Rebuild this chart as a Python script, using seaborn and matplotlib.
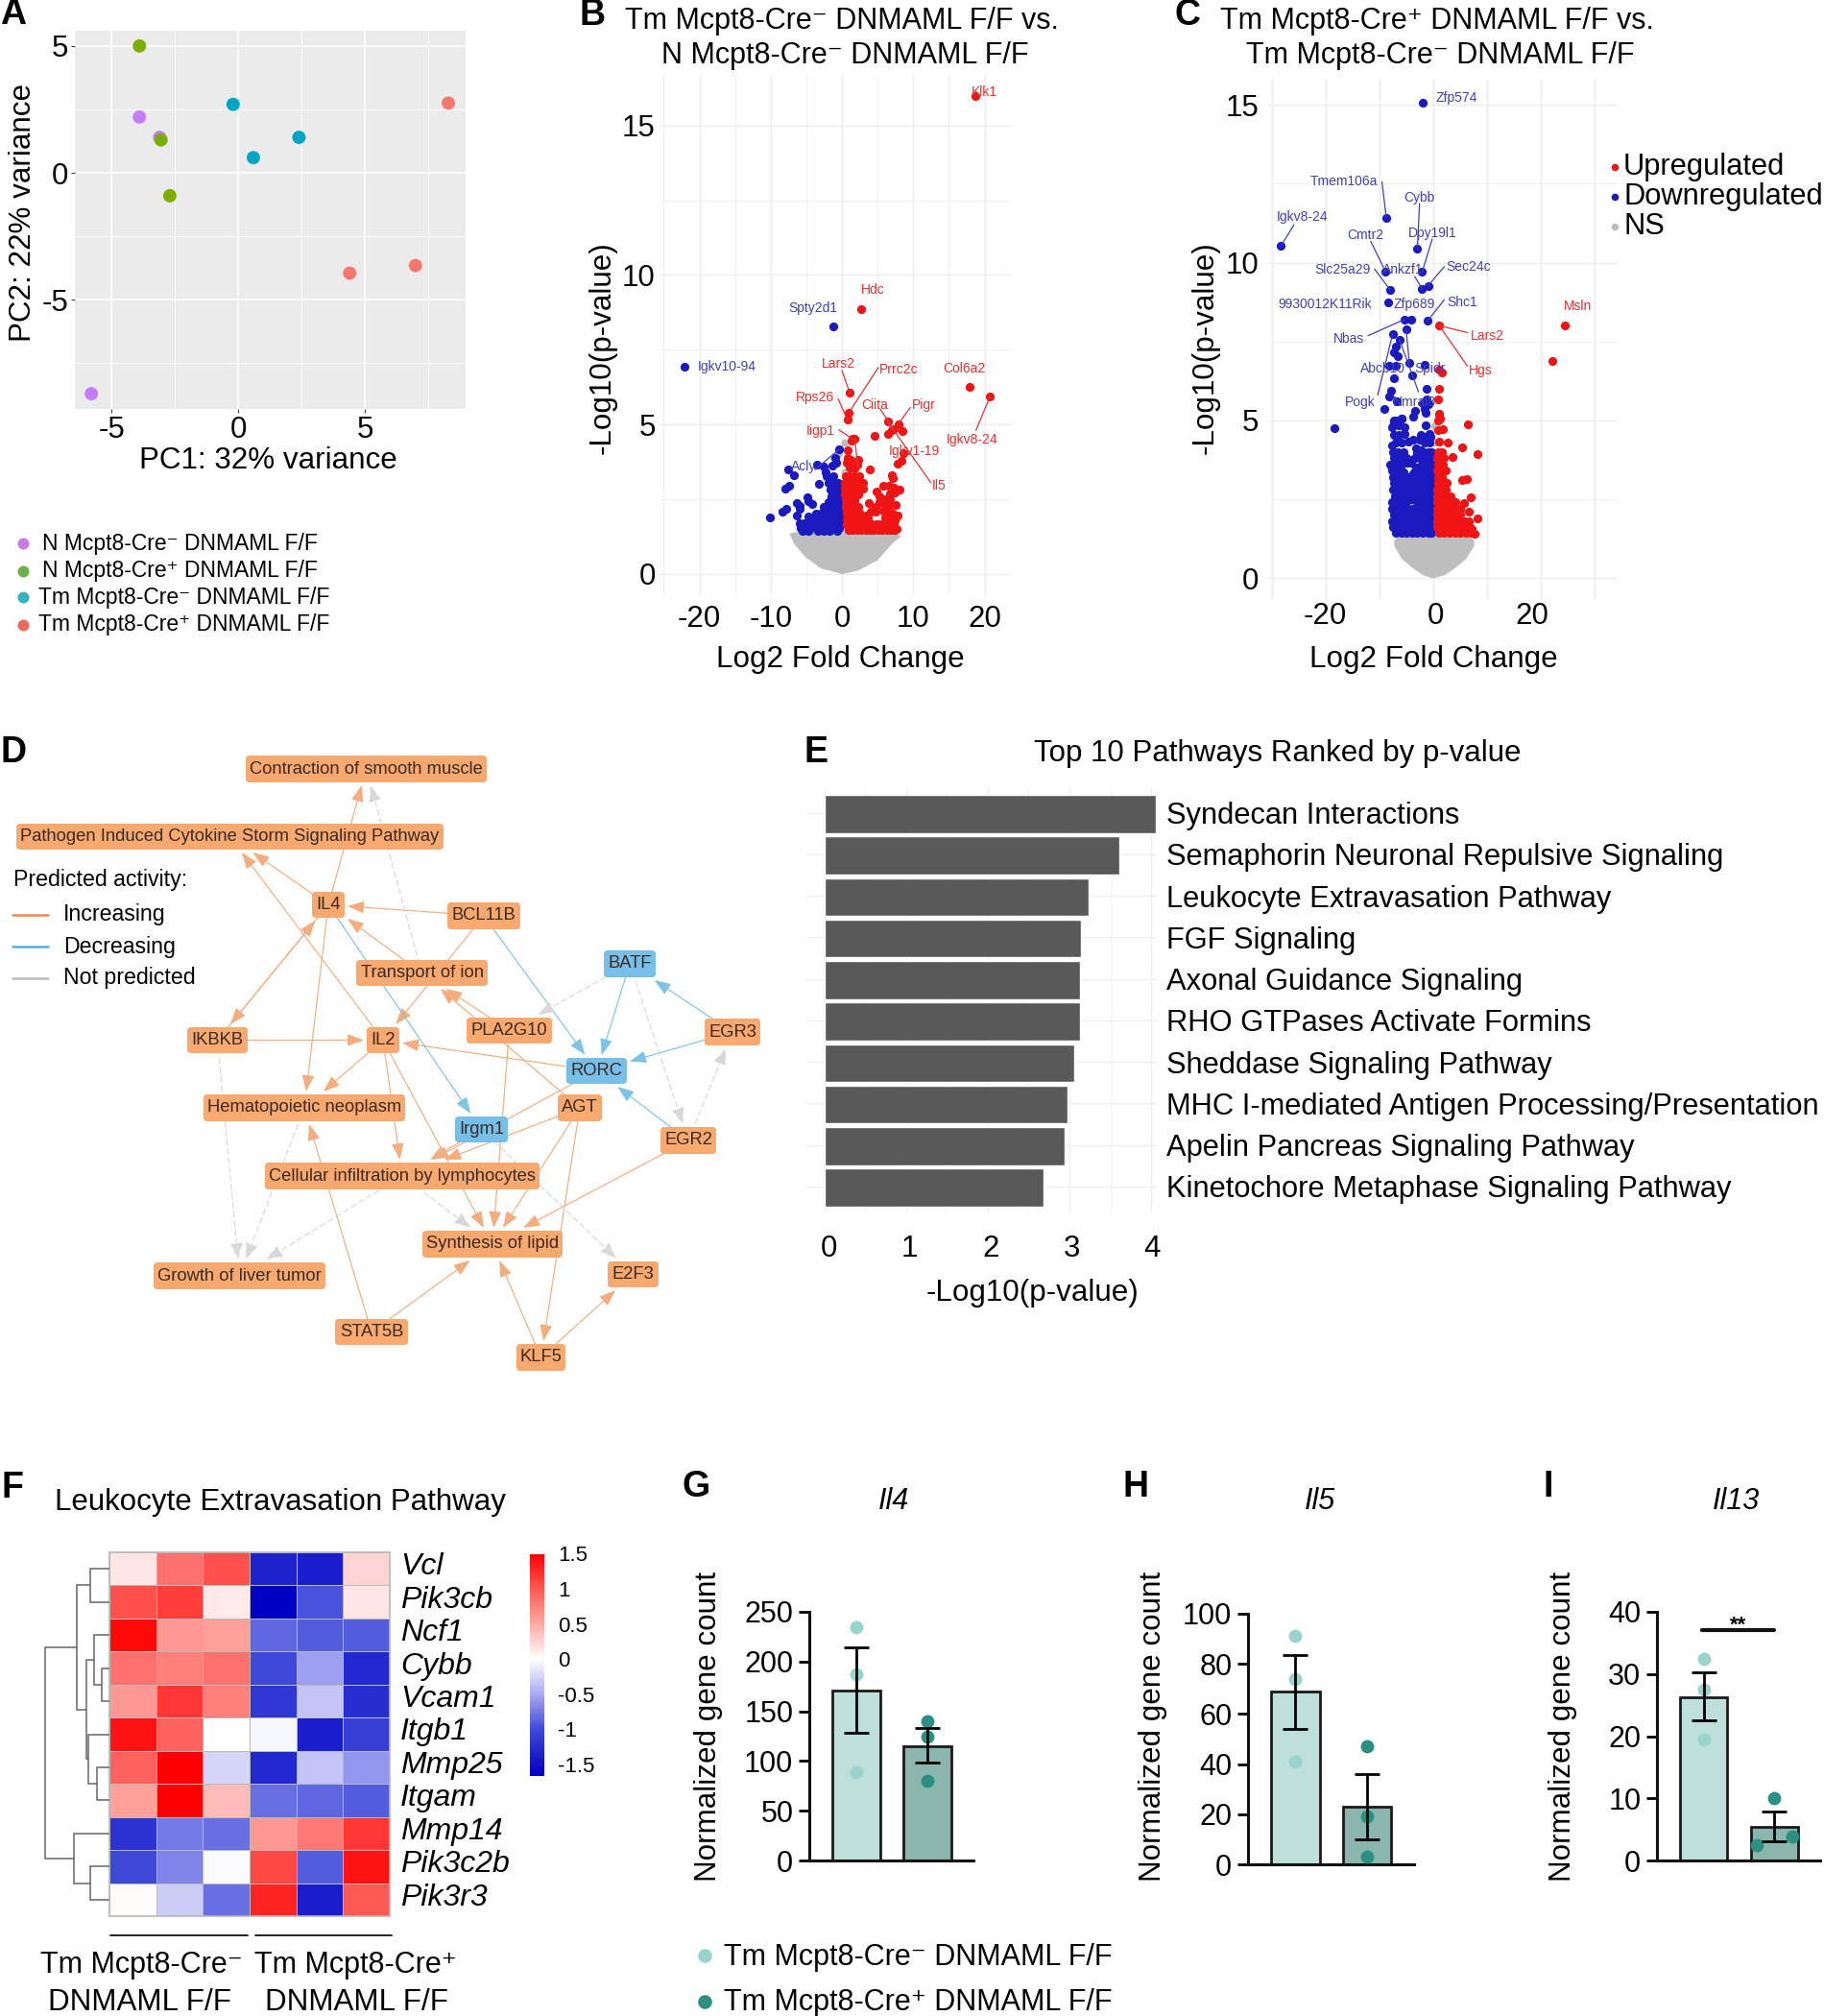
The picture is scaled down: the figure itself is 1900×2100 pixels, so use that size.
#!/usr/bin/env python3
"""Multi panel RNA-seq figure: PCA, volcano plots, network, pathways, heatmap, gene counts."""

import numpy as np
import pandas as pd
import matplotlib

matplotlib.use("Agg")
import matplotlib.pyplot as plt
import seaborn as sns
from matplotlib.colors import LinearSegmentedColormap
from matplotlib.patches import FancyBboxPatch

W, H = 1900, 2100
NEG = "Tm Mcpt8-Cre\u207b DNMAML F/F"
POS = "Tm Mcpt8-Cre\u207a DNMAML F/F"

# A: PCA
PCA_PURPLE = [(-5.8, -8.7), (-3.9, 2.2), (-3.1, 1.4)]
PCA_GREEN = [(-3.9, 5.0), (-3.05, 1.3), (-2.7, -0.9)]
PCA_BLUE = [(-0.2, 2.7), (0.6, 0.6), (2.4, 1.4)]
PCA_RED = [(4.4, -3.95), (7.0, -3.65), (8.3, 2.75)]

# B: volcano
B_DOWN = [
    (-22.1, 6.94), (-1.2, 8.28), (-0.45, 4.15), (-3.5, 3.66),
    (-10.1, 1.88), (-8.4, 2.07), (-7.8, 2.18), (-6.4, 1.94), (-6.4, 2.37), (-5.9, 2.28),
    (-6.0, 2.18), (-4.9, 2.57), (-4.2, 2.34), (-4.7, 2.44), (-8.0, 2.85), (-7.4, 2.96),
    (-3.2, 3.01), (-6.7, 3.3), (-7.5, 3.48), (-2.5, 3.6), (-2.3, 3.4), (-2.1, 3.25),
    (-1.0, 3.87), (-0.85, 3.73), (-1.3, 3.62), (-1.2, 3.25), (-1.9, 3.03), (-0.9, 3.03),
    (-0.5, 3.03), (-1.6, 2.82), (-1.0, 2.82), (-0.4, 2.82), (-1.5, 2.6), (-0.9, 2.6),
    (-0.4, 2.6), (-1.9, 2.39), (-1.2, 2.39), (-0.5, 2.39), (-2.5, 2.23), (-1.8, 2.23),
    (-1.1, 2.23), (-0.4, 2.23), (-3.0, 2.0), (-2.3, 2.0), (-1.5, 2.0), (-0.8, 2.0),
    (-0.3, 2.0), (-3.6, 1.85), (-3.0, 1.85), (-2.3, 1.85), (-1.6, 1.85), (-0.9, 1.85),
    (-0.3, 1.85), (-6.0, 1.7), (-5.3, 1.7), (-4.5, 1.7), (-3.7, 1.7), (-3.0, 1.7),
    (-2.3, 1.7), (-1.6, 1.7), (-0.9, 1.7), (-0.3, 1.7), (-5.8, 1.53), (-5.0, 1.53),
    (-4.6, 1.53), (-3.7, 1.53), (-3.1, 1.53), (-2.4, 1.53), (-1.6, 1.53), (-0.9, 1.53),
    (-0.4, 1.53), (-5.5, 1.42), (-4.7, 1.42), (-3.4, 1.42), (-2.6, 1.42), (-1.7, 1.42),
    (-0.7, 1.42), (-4.7, 1.9), (-3.6, 2.0),
]
B_UP = [
    (18.7, 15.98), (2.7, 8.87), (17.9, 6.26), (20.75, 5.92), (1.1, 6.05), (1.0, 5.4),
    (0.76, 5.15), (6.4, 5.09), (7.9, 5.01), (7.2, 4.85), (6.5, 4.67), (8.5, 4.79),
    (4.6, 4.61), (7.0, 4.8), (8.6, 4.05), (8.3, 3.78), (7.8, 3.68), (7.1, 3.19),
    (1.44, 4.52), (1.8, 4.52), (1.3, 4.45), (0.8, 4.13), (0.85, 3.87), (1.2, 3.8),
    (0.6, 3.73), (2.3, 3.8), (2.1, 3.65), (3.9, 3.5), (7.0, 3.29), (1.1, 3.57), (1.75, 3.52),
    (0.5, 3.25), (1.1, 3.25), (1.7, 3.25), (2.4, 3.25), (0.4, 3.05), (1.0, 3.05), (1.6, 3.05),
    (2.2, 3.05), (2.9, 3.05), (0.4, 2.85), (1.0, 2.85), (1.6, 2.85), (2.2, 2.85), (2.9, 2.85),
    (0.4, 2.65), (1.0, 2.65), (1.6, 2.65), (2.3, 2.65), (0.5, 2.45), (1.1, 2.45), (1.7, 2.45),
    (0.5, 2.25), (1.1, 2.25), (1.7, 2.25), (2.3, 2.25), (0.6, 2.05), (1.2, 2.05), (1.8, 2.05),
    (2.4, 2.05), (0.6, 1.85), (1.2, 1.85), (1.8, 1.85), (2.4, 1.85), (3.0, 1.85), (3.6, 1.85),
    (0.6, 1.65), (1.2, 1.65), (1.8, 1.65), (2.4, 1.65), (3.0, 1.65), (3.6, 1.65), (4.2, 1.65),
    (4.8, 1.65), (5.4, 1.65), (6.0, 1.65), (6.6, 1.65), (7.2, 1.65),
    (0.9, 1.45), (1.5, 1.45), (2.1, 1.45), (2.7, 1.45), (3.3, 1.45), (3.9, 1.45), (4.5, 1.45),
    (5.1, 1.45), (5.7, 1.45), (6.3, 1.45), (6.9, 1.45), (7.4, 1.45),
    (5.8, 2.95), (6.6, 2.95), (7.2, 2.87), (8.1, 2.8), (7.4, 2.71), (4.9, 2.76), (6.7, 2.7),
    (5.3, 2.6), (6.0, 2.5), (6.7, 2.5), (7.5, 2.3), (3.8, 2.37), (5.3, 2.39), (6.0, 2.28),
    (6.7, 2.28), (4.7, 2.23), (5.8, 2.12), (6.5, 2.07), (7.1, 2.01), (7.8, 1.96), (4.0, 2.07),
    (4.7, 2.07), (3.3, 1.96), (6.0, 1.88), (6.7, 1.85), (7.4, 1.8), (3.5, 1.8), (7.7, 1.51),
]
B_NS = [(0.0, 1.5), (-0.1, 1.8), (0.0, 2.1), (-0.2, 2.4), (0.1, 2.7), (0.4, 3.4), (-0.5, 4.0), (0.4, 4.4)]
B_NS_X = [-7.4, -6.8, -5.2, -3.0, 0.0, 2.2, 4.9, 7.1, 8.1]
B_NS_LOW = [1.34, 1.02, 0.57, 0.19, 0.0, 0.12, 0.46, 1.05, 1.23]
B_NS_TOP = [1.36, 1.4, 1.42, 1.42, 1.42, 1.42, 1.42, 1.4, 1.3]
B_LABELS = [
    ("Klk1", 20, 16.13, "r"), ("Hdc", 4.3, 9.5, "r"), ("Spty2d1", -4.1, 8.9, "b"),
    ("Igkv10-94", -16.2, 6.93, "b"), ("Lars2", -0.45, 7.04, "r"), ("Prrc2c", 7.9, 6.82, "r"),
    ("Col6a2", 17.2, 6.87, "r"), ("Rps26", -3.8, 5.9, "r"), ("Ciita", 4.6, 5.64, "r"),
    ("Pigr", 11.5, 5.64, "r"), ("Iigp1", -3, 4.78, "r"), ("Igkv8-24", 18.3, 4.5, "r"),
    ("Igkv1-19", 10.2, 4.1, "r"), ("Acly", -5.4, 3.6, "b"), ("Il5", 13.6, 2.95, "r"),
]
B_LEADERS = [
    (0, 6.8, 1.1, 6.05, "r"), (5.1, 6.9, 1.0, 5.4, "r"), (-0.55, 5.86, 0.76, 5.15, "r"),
    (5.4, 5.5, 7.2, 4.85, "r"), (9.6, 5.57, 7.9, 5.01, "r"), (-0.45, 4.82, 1.44, 4.52, "r"),
    (18.8, 4.8, 20.75, 5.92, "r"), (-3.8, 3.48, -0.45, 4.15, "b"), (12.5, 3.04, 6.4, 5.09, "r"),
    (1.8, 4.52, 2.25, 3.5, "r"),
]

# C: volcano
C_DOWN = [
    (-28.4, 10.53), (-2.0, 15.08), (-18.4, 4.74), (-8.8, 11.43), (-3.0, 10.44), (-8.9, 9.7),
    (-2.1, 9.7), (-8.1, 9.14), (-2.1, 9.17), (-1.0, 9.27), (-8.5, 8.73), (-5.4, 8.2), (-4.1, 8.2),
    (-1.1, 8.15), (-5.1, 7.87), (-7.6, 7.74), (-6.3, 7.54), (-7.0, 7.35), (-7.4, 7.14), (-6.7, 7.02),
    (-4.5, 6.82), (-8.3, 6.72), (-7.0, 6.72), (-1.6, 6.75), (-3.9, 6.41), (-7.4, 6.33), (-1.25, 6.0),
    (-7.9, 5.95), (-8.3, 5.76), (-6.8, 5.6), (-9.2, 5.36), (-1.25, 5.65), (-2.0, 5.55), (-1.0, 5.5),
    (-1.7, 5.35), (-3.5, 5.3), (-3.8, 5.1), (-1.4, 5.25), (-5.9, 5.05), (-7.4, 5.0),
    (-7.4, 4.94), (-6.8, 4.99), (-5.9, 5.06), (-7.7, 4.79), (-6.5, 4.84), (-5.4, 4.79), (-7.4, 4.53),
    (-6.4, 4.53), (-5.4, 4.58), (-7.1, 4.28), (-6.0, 4.28), (-4.7, 4.33), (-3.8, 4.38), (-1.4, 4.84),
    (-0.8, 4.58), (-2.3, 4.53), (-1.4, 4.48), (-0.5, 4.48), (-2.6, 4.38), (-1.7, 4.28), (-0.8, 4.28),
    (-7.6, 4.0), (-6.6, 4.0), (-5.6, 4.0), (-1.8, 4.0), (-1.0, 4.0), (-0.4, 4.0), (-3.0, 3.95),
    (-2.4, 4.05), (-3.2, 4.1), (-4.0, 3.75), (-4.8, 3.65), (-3.3, 3.5), (-3.6, 3.35), (-4.8, 3.2),
    (-5.6, 3.15), (-4.6, 3.0), (-3.8, 2.8), (-7.7, 4.2), (-2.2, 2.2), (-4.1, 2.5),
    (-7.4, 3.8), (-6.3, 3.8), (-5.0, 3.8), (-3.5, 3.8), (-2.5, 3.8), (-1.6, 3.8), (-0.7, 3.8),
    (-8.0, 3.6), (-7.0, 3.6), (-6.0, 3.6), (-4.2, 3.65), (-2.2, 3.6), (-1.2, 3.6), (-0.3, 3.6),
    (-7.8, 3.4), (-6.9, 3.4), (-5.5, 3.35), (-2.8, 3.4), (-1.9, 3.4), (-1.0, 3.4), (-0.3, 3.4),
    (-7.5, 3.2), (-6.5, 3.2), (-4.0, 3.25), (-3.0, 3.2), (-2.0, 3.2), (-1.0, 3.2), (-0.3, 3.2),
    (-7.4, 3.0), (-6.4, 3.0), (-5.3, 3.0), (-3.7, 3.0), (-2.8, 3.0), (-1.8, 3.0), (-0.9, 3.0), (-0.3, 3.0),
    (-7.6, 2.8), (-6.6, 2.8), (-5.6, 2.8), (-4.7, 2.8), (-2.9, 2.8), (-1.9, 2.8), (-1.0, 2.8), (-0.3, 2.8),
    (-7.2, 2.6), (-6.3, 2.6), (-5.4, 2.6), (-4.5, 2.6), (-3.4, 2.6), (-2.4, 2.6), (-1.4, 2.6), (-0.5, 2.6),
    (-7.7, 2.4), (-6.8, 2.4), (-5.9, 2.4), (-5.0, 2.4), (-3.0, 2.4), (-2.0, 2.4), (-1.0, 2.4), (-0.3, 2.4),
    (-7.8, 2.2), (-6.9, 2.2), (-6.0, 2.2), (-5.0, 2.2), (-4.0, 2.2), (-3.0, 2.2), (-2.0, 2.2), (-1.0, 2.2), (-0.3, 2.2),
    (-7.4, 2.0), (-6.5, 2.0), (-5.5, 2.0), (-4.5, 2.0), (-3.5, 2.0), (-2.5, 2.0), (-1.5, 2.0), (-0.6, 2.0),
    (-7.8, 1.8), (-6.9, 1.8), (-6.0, 1.8), (-5.0, 1.8), (-4.0, 1.8), (-3.0, 1.8), (-2.0, 1.8), (-1.0, 1.8), (-0.3, 1.8),
    (-7.5, 1.6), (-6.5, 1.6), (-5.5, 1.6), (-4.5, 1.6), (-3.5, 1.6), (-2.5, 1.6), (-1.5, 1.6), (-0.5, 1.6),
    (-7.0, 1.42), (-6.0, 1.42), (-5.0, 1.42), (-4.0, 1.42), (-3.0, 1.42), (-2.0, 1.42), (-1.0, 1.42), (-0.4, 1.42),
]
C_UP = [
    (1.07, 8.0), (24.5, 8.0), (22.1, 6.89), (1.0, 6.6), (1.55, 6.52), (1.0, 6.0), (0.8, 5.65),
    (1.0, 5.2), (1.3, 5.04), (6.4, 4.87), (2.6, 4.28), (5.4, 4.13), (8.1, 3.94), (3.5, 3.84),
    (5.4, 3.11), (6.2, 3.14), (7.0, 2.57), (5.7, 2.38), (6.6, 2.09), (8.1, 1.89), (1.1, 5.19),
    (0.8, 4.99), (0.8, 4.68), (1.7, 4.72), (1.0, 4.33), (0.8, 4.0), (1.5, 4.0), (0.7, 3.8), (1.4, 3.8),
    (2.0, 3.8), (0.9, 3.6), (1.7, 3.6), (0.7, 3.4), (1.3, 3.4), (2.2, 3.4), (0.8, 3.2), (1.6, 3.2),
    (0.9, 3.0), (1.7, 3.0), (2.5, 3.0), (0.7, 2.8), (1.5, 2.8), (2.3, 2.8), (0.7, 2.6), (1.5, 2.6),
    (2.4, 2.6), (3.2, 2.6), (0.6, 2.4), (1.4, 2.4), (2.3, 2.4), (3.2, 2.4), (4.0, 2.4), (0.6, 2.2),
    (1.4, 2.2), (2.3, 2.2), (3.2, 2.2), (4.1, 2.2), (4.9, 2.2), (0.6, 2.0), (1.4, 2.0), (2.3, 2.0),
    (3.2, 2.0), (4.1, 2.0), (5.0, 2.0), (0.6, 1.8), (1.4, 1.8), (2.3, 1.8), (3.2, 1.8), (4.1, 1.8),
    (5.0, 1.8), (5.9, 1.8), (6.6, 1.8), (0.7, 1.6), (1.5, 1.6), (2.4, 1.6), (3.3, 1.6), (4.2, 1.6),
    (5.1, 1.6), (6.0, 1.6), (6.8, 1.6), (7.2, 1.55), (1.0, 1.42), (2.0, 1.42), (3.0, 1.42), (4.0, 1.42),
    (5.0, 1.42), (6.0, 1.42), (7.0, 1.42), (7.6, 1.4),
]
C_NS = [(0.3, 2.2), (0.0, 2.5), (0.4, 3.2), (-0.1, 3.1), (0.3, 4.3), (0.1, 4.8)]
C_NS_X = [-7.4, -6.0, -4.0, -2.0, -0.2, 2.0, 4.0, 6.0, 7.5]
C_NS_LOW = [1.03, 0.62, 0.33, 0.1, 0.0, 0.1, 0.33, 0.62, 1.03]
C_NS_TOP = [1.2, 1.42, 1.42, 1.42, 1.42, 1.42, 1.42, 1.42, 1.2]
C_LABELS = [
    ("Zfp574", 4.2, 15.23, "b"), ("Tmem106a", -16.6, 12.57, "b"), ("Cybb", -2.7, 12.07, "b"),
    ("Igkv8-24", -24.5, 11.46, "b"), ("Cmtr2", -12.6, 10.86, "b"), ("Dpy19l1", -0.2, 10.94, "b"),
    ("Slc25a29", -16.9, 9.76, "b"), ("Ankzf1", -5.8, 9.76, "b"), ("Sec24c", 6.5, 9.85, "b"),
    ("9930012K11Rik", -20.2, 8.68, "b"), ("Zfp689", -3.6, 8.68, "b"), ("Shc1", 5.4, 8.75, "b"),
    ("Msln", 26.8, 8.61, "r"), ("Nbas", -15.8, 7.58, "b"), ("Lars2", 10, 7.67, "r"),
    ("Abcb10", -9.4, 6.65, "b"), ("Spidr", -0.6, 6.65, "b"), ("Hgs", 8.8, 6.58, "r"),
    ("Pogk", -13.7, 5.56, "b"), ("Nmral8", -3.6, 5.56, "b"),
]
C_LEADERS = [
    (-9.6, 12.56, -8.8, 11.43, "b"), (-2.6, 11.87, -3.0, 10.44, "b"), (-0.24, 10.75, -2.1, 9.7, "b"),
    (-11.7, 10.68, -8.9, 9.7, "b"), (-11, 9.8, -8.1, 9.14, "b"), (-3.5, 9.56, -2.1, 9.17, "b"),
    (2, 9.87, -1, 9.27, "b"), (2, 8.82, -1.1, 8.15, "b"), (-12.2, 7.68, -5.4, 8.2, "b"),
    (6.3, 7.78, 1.07, 8.0, "r"), (6.3, 6.72, 1.07, 8.0, "r"), (-10.4, 5.8, -7.6, 7.74, "b"),
    (-6.3, 7.54, -2.8, 5.9, "b"), (-5.1, 7.87, -4.5, 6.82, "b"), (-26, 11.2, -28.4, 10.53, "b"),
]

# D: network (name, left, right, top, bottom, kind) in figure pixels
NODES = [
    ("Contraction of smooth muscle", 256, 507, 787, 815, "o"),
    ("Pathogen Induced Cytokine Storm Signaling Pathway", 17, 462, 858, 885, "o"),
    ("IL4", 325, 359, 929, 956, "o"), ("BCL11B", 466, 542, 940, 968, "o"),
    ("Transport of ion", 371, 508, 1000, 1027, "o"), ("BATF", 629, 683, 990, 1018, "b"),
    ("IKBKB", 195, 258, 1070, 1097, "o"), ("IL2", 382, 416, 1070, 1097, "o"),
    ("PLA2G10", 486, 575, 1060, 1087, "o"), ("EGR3", 734, 792, 1061, 1089, "o"),
    ("RORC", 590, 653, 1102, 1129, "b"), ("Hematopoietic neoplasm", 212, 422, 1140, 1168, "o"),
    ("AGT", 581, 627, 1140, 1168, "o"), ("Irgm1", 474, 529, 1163, 1190, "b"),
    ("EGR2", 688, 746, 1174, 1202, "o"), ("Cellular infiltration by lymphocytes", 276, 562, 1211, 1239, "o"),
    ("Synthesis of lipid", 440, 586, 1282, 1310, "o"), ("Growth of liver tumor", 160, 339, 1315, 1343, "o"),
    ("E2F3", 633, 686, 1314, 1341, "o"), ("STAT5B", 349, 425, 1374, 1401, "o"),
    ("KLF5", 538, 589, 1400, 1428, "o"),
]
CMS = "Contraction of smooth muscle"
PCS = "Pathogen Induced Cytokine Storm Signaling Pathway"
TOI = "Transport of ion"
HN = "Hematopoietic neoplasm"
CIL = "Cellular infiltration by lymphocytes"
SOL = "Synthesis of lipid"
GLT = "Growth of liver tumor"
EDGES_UP = [
    ("IL4", CMS), ("IL4", PCS), ("IL2", PCS), ("BCL11B", "IL4"), (TOI, "IL4"), ("IKBKB", "IL4"),
    ("IL4", "IKBKB"), ("IL4", HN), ("BCL11B", "IL2"), ("PLA2G10", TOI), ("AGT", TOI), ("IKBKB", "IL2"),
    ("RORC", "IL2"), ("IL2", HN), ("IL2", CIL), ("IL2", SOL), ("Irgm1", CIL), ("RORC", CIL), ("AGT", CIL),
    ("PLA2G10", SOL), ("AGT", SOL), ("EGR2", SOL), ("AGT", "KLF5"), ("STAT5B", HN), ("STAT5B", SOL),
    ("KLF5", SOL), ("KLF5", "E2F3"),
]
EDGES_DOWN = [
    ("EGR3", "BATF"), ("BATF", "RORC"), ("EGR3", "RORC"), ("EGR2", "RORC"), ("BCL11B", "RORC"), ("IL4", "Irgm1"),
]
EDGES_NONE = [
    (TOI, CMS), ("BATF", "PLA2G10"), ("BATF", "EGR2"), ("EGR2", "EGR3"), ("IKBKB", GLT), (HN, GLT),
    (CIL, GLT), (CIL, SOL), ("Irgm1", "E2F3"),
]

# E: pathways
PATHWAYS = [
    "Syndecan Interactions", "Semaphorin Neuronal Repulsive Signaling", "Leukocyte Extravasation Pathway",
    "FGF Signaling", "Axonal Guidance Signaling", "RHO GTPases Activate Formins", "Sheddase Signaling Pathway",
    "MHC I-mediated Antigen Processing/Presentation", "Apelin Pancreas Signaling Pathway",
    "Kinetochore Metaphase Signaling Pathway",
]
PATHWAY_P = [4.06, 3.61, 3.235, 3.14, 3.13, 3.13, 3.06, 2.98, 2.94, 2.685]

# F: heatmap
GENES = ["Vcl", "Pik3cb", "Ncf1", "Cybb", "Vcam1", "Itgb1", "Mmp25", "Itgam", "Mmp14", "Pik3c2b", "Pik3r3"]
HEAT = [
    [0.15, 0.85, 1.05, -1.35, -1.4, 0.25],
    [1.05, 1.15, 0.12, -1.65, -0.95, 0.15],
    [1.45, 0.6, 0.55, -0.85, -0.9, -0.9],
    [0.85, 0.75, 0.85, -1.0, -0.55, -1.3],
    [0.6, 1.2, 0.75, -1.15, -0.35, -1.25],
    [1.4, 0.95, 0.0, -0.05, -1.4, -1.1],
    [0.95, 1.5, -0.25, -1.3, -0.35, -0.6],
    [0.55, 1.5, 0.4, -0.8, -0.85, -0.9],
    [-1.2, -0.75, -0.8, 0.6, 0.8, 1.2],
    [-1.0, -0.7, -0.03, 1.1, -0.9, 1.4],
    [0.02, -0.3, -0.8, 1.3, -1.4, 1.0],
]
# dendrogram as nested (height, child, child), leaves are row indexes
TREE = (67.5,
        (33.8, (19.8, 0, 1),
         (24.5, (16, 2, (8.4, 3, 4)), (21.9, 5, (13.5, 6, 7)))),
        (36.7, 8, (20.3, 9, 10)))

# G, H, I: gene counts
IL4_MEAN, IL4_LOW, IL4_HIGH = [171, 115], [128, 98], [214, 133]
IL4_NEG, IL4_POS = [235, 187, 89], [140, 125, 80]
IL5_MEAN, IL5_LOW, IL5_HIGH = [69, 23], [54, 10], [83.5, 36]
IL5_NEG, IL5_POS = [91, 74, 41], [47, 19, 3]
IL13_MEAN, IL13_LOW, IL13_HIGH = [26.3, 5.4], [22.5, 3.1], [30.2, 7.9]
IL13_NEG, IL13_POS = [32.4, 27.5, 19.5], [10.1, 3.9, 2.4]
IL13_POS_X = [1.0, 1.25, 0.75]

RED = "#f01414"
BLUE = "#1a1abf"
GREY = "#bebebe"
ORANGE_NODE = "#f7a96f"
BLUE_NODE = "#77bfe8"
BAR_COLORS = ["#bde0db", "#8bb6ad"]
DOT_COLORS = ["#99d3cc", "#2b9080"]

sns.set_theme(style="white")
plt.rcParams["font.family"] = ["Liberation Sans", "DejaVu Sans"]
plt.rcParams["axes.unicode_minus"] = False
plt.rcParams["text.color"] = "black"
plt.rcParams["axes.labelcolor"] = "black"
plt.rcParams["xtick.color"] = "black"
plt.rcParams["ytick.color"] = "black"

fig = plt.figure(figsize=(W / 100, H / 100), dpi=100, facecolor="white")


def add_ax(left, top, right, bottom):
    return fig.add_axes([left / W, 1 - bottom / H, (right - left) / W, (bottom - top) / H])


# overlay in figure pixels for free text and the network
over = fig.add_axes([0, 0, 1, 1], zorder=10)
over.set_xlim(0, W)
over.set_ylim(H, 0)
over.axis("off")


def txt(x, y, s, size=22.6, ha="center", va="center", **kw):
    over.text(x, y, s, fontsize=size, ha=ha, va=va, **kw)


for letter, x, y in [("A", 14, 15), ("B", 617, 16), ("C", 1237, 16), ("D", 14, 784),
                     ("E", 850, 784), ("F", 13, 1550), ("G", 725, 1549), ("H", 1183, 1549), ("I", 1613, 1549)]:
    txt(x, y, letter, size=27, fontweight="bold")


def panel_a():
    ax = add_ax(78, 32, 485, 426)
    groups = [PCA_PURPLE, PCA_GREEN, PCA_BLUE, PCA_RED]
    colors = ["#c77cff", "#7cae00", "#00a5c6", "#f8766d"]
    df = pd.DataFrame(
        [(x, y, i) for i, g in enumerate(groups) for x, y in g], columns=["pc1", "pc2", "group"]
    )
    sns.scatterplot(data=df, x="pc1", y="pc2", hue="group", palette=colors, s=100,
                    linewidth=0, legend=False, ax=ax)
    ax.set_xlim(-6.45, 8.98)
    ax.set_ylim(-9.3, 5.6)
    ax.set_facecolor("#ebebeb")
    ax.set_xticks([-5, 0, 5])
    ax.set_yticks([-5, 0, 5])
    ax.set_xticks([-2.5, 2.5, 7.5], minor=True)
    ax.set_yticks([-7.5, -2.5, 2.5], minor=True)
    ax.grid(True, which="major", color="white", lw=1.1)
    ax.grid(True, which="minor", color="white", lw=0.6)
    ax.set_axisbelow(True)
    ax.tick_params(which="major", labelsize=22.5, length=3, width=0.8, color="#444444", pad=2,
                   bottom=True, left=True)
    ax.tick_params(which="minor", length=0)
    sns.despine(ax=ax, left=True, bottom=True)
    ax.set_xlabel("")
    ax.set_ylabel("")
    txt(279, 480, "PC1: 32% variance")
    txt(24, 221, "PC2: 22% variance", rotation=90)
    legend = [("N Mcpt8-Cre\u207b DNMAML F/F", 566, "#c97be8", 44),
              ("N Mcpt8-Cre\u207a DNMAML F/F", 595, "#6fb04a", 44),
              (NEG, 622, "#35b3c0", 40), (POS, 651, "#f0695f", 40)]
    for label, y, color, x in legend:
        over.scatter([24], [y], s=75, color=color, linewidth=0)
        txt(x, y, label, size=16.5, ha="left")


def volcano(ax, down, up, ns, ns_x, ns_low, ns_top, labels, leaders, size):
    ax.fill_between(ns_x, ns_low, ns_top, color=GREY, lw=0, zorder=1)
    nsa, da, ua = np.array(ns), np.array(down), np.array(up)
    sns.scatterplot(x=nsa[:, 0], y=nsa[:, 1], color=GREY, s=34, linewidth=0, ax=ax, zorder=2)
    sns.scatterplot(x=da[:, 0], y=da[:, 1], color=BLUE, s=44, linewidth=0, ax=ax, zorder=3)
    sns.scatterplot(x=ua[:, 0], y=ua[:, 1], color=RED, s=44, linewidth=0, ax=ax, zorder=3)
    cols = {"r": "#e83030", "b": "#3f3fbf"}
    for x0, y0, x1, y1, c in leaders:
        ax.plot([x0, x1], [y0, y1], color=cols[c], lw=0.9, zorder=4)
    for s, x, y, c in labels:
        ax.text(x, y, s, color=cols[c], fontsize=size, ha="center", va="center", zorder=5)
    sns.despine(ax=ax, left=True, bottom=True)
    ax.set_axisbelow(True)


def panel_b():
    ax = add_ax(687, 78, 1053, 620)
    volcano(ax, B_DOWN, B_UP, B_NS, B_NS_X, B_NS_LOW, B_NS_TOP, B_LABELS, B_LEADERS, 10)
    ax.set_xlim(-25.6, 23.7)
    ax.set_ylim(-0.72, 16.7)
    ax.set_xticks([-20, -10, 0, 10, 20])
    ax.set_xticks([-25, -15, -5, 5, 15], minor=True)
    ax.set_yticks([0, 5, 10, 15])
    ax.set_yticks([2.5, 7.5, 12.5], minor=True)
    ax.grid(True, which="major", color="#ececec", lw=1.0)
    ax.grid(True, which="minor", color="#f2f2f2", lw=0.8)
    ax.tick_params(which="both", length=0)
    ax.tick_params(axis="x", labelsize=22.5, pad=7)
    ax.tick_params(axis="y", labelsize=22.5, pad=3)
    txt(875, 687, "Log2 Fold Change")
    txt(628, 362, "-Log10(p-value)", rotation=90)
    txt(877, 22, "Tm Mcpt8-Cre\u207b DNMAML F/F vs.", size=22)
    txt(880, 58, "N Mcpt8-Cre\u207b DNMAML F/F", size=22)


def panel_c():
    ax = add_ax(1321, 83, 1685, 625)
    volcano(ax, C_DOWN, C_UP, C_NS, C_NS_X, C_NS_LOW, C_NS_TOP, C_LABELS, C_LEADERS, 10)
    ax.set_xlim(-30.8, 34.3)
    ax.set_ylim(-0.7, 15.8)
    ax.set_xticks([-30, -20, -10, 0, 10, 20, 30])
    ax.set_xticklabels([])
    ax.set_yticks([0, 5, 10, 15])
    ax.set_yticks([2.5, 7.5, 12.5], minor=True)
    ax.grid(True, which="major", color="#ececec", lw=1.0)
    ax.grid(True, which="minor", color="#f2f2f2", lw=0.8)
    ax.tick_params(which="both", length=0)
    ax.tick_params(axis="y", labelsize=22.5, pad=7)
    for s, x in [("-20", 1380), ("0", 1495), ("20", 1596)]:
        txt(x, 642, s, size=22.5)
    txt(1493, 687, "Log2 Fold Change")
    txt(1256, 362, "-Log10(p-value)", rotation=90)
    txt(1497, 22, "Tm Mcpt8-Cre\u207a DNMAML F/F vs.", size=22)
    txt(1500, 58, "Tm Mcpt8-Cre\u207b DNMAML F/F", size=22)
    for s, y, c in [("Upregulated", 174, RED), ("Downregulated", 205, BLUE), ("NS", 236, GREY)]:
        over.scatter([1682], [y], s=30, color=c, linewidth=0)
        txt(1691, y, s, size=22.2, ha="left")


def edge_tip(src, dst):
    # stop the line where it meets the target box
    x0, y0 = (src[1] + src[2]) / 2, (src[3] + src[4]) / 2
    x1, y1 = (dst[1] + dst[2]) / 2, (dst[3] + dst[4]) / 2
    hw, hh = (dst[2] - dst[1]) / 2 + 3, (dst[4] - dst[3]) / 2 + 3
    t = min(hw / max(abs(x1 - x0), 1e-6), hh / max(abs(y1 - y0), 1e-6))
    return (x0, y0), (x1 - (x1 - x0) * t, y1 - (y1 - y0) * t)


def panel_d():
    nodes = {n[0]: n for n in NODES}
    styles = [(EDGES_UP, "#f3ad7e", "-"), (EDGES_DOWN, "#7ec4e6", "-"), (EDGES_NONE, "#d8d8d8", (0, (5, 3)))]
    for edges, color, ls in styles:
        for a, b in edges:
            start, tip = edge_tip(nodes[a], nodes[b])
            over.annotate("", xy=tip, xytext=start, zorder=1,
                          arrowprops=dict(arrowstyle="-|>,head_length=0.75,head_width=0.28", color=color,
                                          lw=0.85, linestyle=ls, shrinkA=0, shrinkB=0, mutation_scale=14))
    for name, l, r, t, b, kind in NODES:
        box = FancyBboxPatch((l + 4, t + 4), r - l - 8, b - t - 8, boxstyle="round,pad=4,rounding_size=4",
                             facecolor=ORANGE_NODE if kind == "o" else BLUE_NODE, edgecolor="none", zorder=2)
        over.add_patch(box)
        over.text((l + r) / 2, (t + b) / 2, name, fontsize=13.2, color="#3a2a20", ha="center", va="center", zorder=3)
    txt(14, 917, "Predicted activity:", size=16.7, ha="left")
    for s, y, c in [("Increasing", 953, "#ef8a4e"), ("Decreasing", 986, "#4fb5cc"), ("Not predicted", 1019, "#bbbbbb")]:
        over.plot([13, 50], [y, y], color=c, lw=1.8)
        txt(66, y, s, size=16.7, ha="left")


def panel_e():
    ax = add_ax(840, 821, 1205, 1263)
    df = pd.DataFrame({"pathway": PATHWAYS, "p": PATHWAY_P})
    sns.barplot(data=df, y="pathway", x="p", color="#595959", saturation=1, width=0.915, ax=ax)
    ax.set_xlim(-0.22, 4.07)
    ax.set_ylim(9.6, -0.62)
    ax.set_xticks([0, 1, 2, 3, 4])
    ax.set_xticklabels([])
    ax.set_xticks([0.5, 1.5, 2.5, 3.5], minor=True)
    ax.set_yticks(np.arange(10) - 0.03, PATHWAYS)
    ax.grid(True, axis="both", which="major", color="#eeeeee", lw=0.9)
    ax.grid(True, axis="x", which="minor", color="#f4f4f4", lw=0.7)
    ax.set_axisbelow(True)
    ax.yaxis.tick_right()
    ax.tick_params(which="both", length=0)
    ax.tick_params(axis="y", labelsize=22.2, pad=7)
    sns.despine(ax=ax, left=True, bottom=True)
    ax.set_xlabel("")
    ax.set_ylabel("")
    for s, x in [("0", 863), ("1", 947), ("2", 1032), ("3", 1116), ("4", 1200)]:
        txt(x, 1301, s, size=22.5)
    txt(1076, 1347, "-Log10(p-value)")
    txt(1331, 785, "Top 10 Pathways Ranked by p-value", size=22.5)


def draw_tree(ax, node):
    # returns (row position, height) of a subtree
    if not isinstance(node, tuple):
        return node + 0.5, 0
    h, a, b = node
    ya, ha = draw_tree(ax, a)
    yb, hb = draw_tree(ax, b)
    ax.plot([ha, h, h, hb], [ya, ya, yb, yb], color="#666666", lw=1.1, solid_joinstyle="miter")
    return (ya + yb) / 2, h


def panel_f():
    ax = add_ax(114, 1617, 406, 1996)
    cax = add_ax(552, 1618.5, 567, 1849.5)
    stops = [(-1.66, "#0000c4"), (-1.0, "#3f49d8"), (-0.5, "#a9abf2"), (0, "#ffffff"),
             (0.5, "#ffa9a4"), (1.0, "#ff5a55"), (1.5, "#ff0000")]
    cmap = LinearSegmentedColormap.from_list("bwr_pheat", [((v + 1.66) / 3.16, c) for v, c in stops])
    sns.heatmap(np.array(HEAT), cmap=cmap, vmin=-1.66, vmax=1.5, linewidths=0.6, linecolor="#b9b9b9",
                xticklabels=False, yticklabels=GENES, ax=ax, cbar_ax=cax,
                cbar_kws={"ticks": [1.5, 1, 0.5, 0, -0.5, -1, -1.5]})
    ax.set_yticks(np.arange(11) + 0.5 - 0.16, GENES)
    ax.yaxis.tick_right()
    ax.tick_params(axis="y", length=0, labelsize=23, rotation=0, pad=8)
    for lab in ax.get_yticklabels():
        lab.set_fontstyle("italic")
    for s in ax.spines.values():
        s.set_visible(True)
        s.set_color("#b9b9b9")
    cax.tick_params(length=0, labelsize=16, pad=10)
    cax.set_yticklabels(["1.5", "1", "0.5", "0", "-0.5", "-1", "-1.5"])
    ax.collections[0].colorbar.outline.set_visible(False)

    dax = add_ax(39, 1617, 114, 1996)
    dax.set_xlim(75, 0)
    dax.set_ylim(11, 0)
    draw_tree(dax, TREE)
    dax.axis("off")

    txt(292, 1565, "Leukocyte Extravasation Pathway", size=22.5)
    over.plot([115, 258], [2016, 2016], color="#222222", lw=1.4)
    over.plot([266, 408], [2016, 2016], color="#222222", lw=1.4)
    txt(147, 2047, "Tm Mcpt8-Cre\u207b", size=22)
    txt(145, 2086, "DNMAML F/F")
    txt(370, 2047, "Tm Mcpt8-Cre\u207a", size=22)
    txt(372, 2086, "DNMAML F/F")


def count_panel(box, ymax, yticks, title, title_x, label_x, means, low, high, neg, pos, pos_x=None):
    left, top, right, bottom = box
    ax = add_ax(left, top, right, bottom)
    df = pd.DataFrame({"group": ["neg", "pos"], "count": means})
    sns.barplot(data=df, x="group", y="count", hue="group", palette=BAR_COLORS, saturation=1, width=0.67,
                edgecolor="#1a1a1a", linewidth=2, legend=False, ax=ax)
    means_a = np.array(means)
    ax.errorbar([0, 1], means, yerr=[means_a - np.array(low), np.array(high) - means_a], fmt="none",
                ecolor="black", elinewidth=2, capsize=9.5, capthick=2, zorder=5)
    sns.scatterplot(x=[0, 0, 0], y=neg, color=DOT_COLORS[0], s=100, linewidth=0, ax=ax, zorder=4)
    sns.scatterplot(x=pos_x or [1, 1, 1], y=pos, color=DOT_COLORS[1], s=100, linewidth=0, ax=ax, zorder=4)
    ax.set_xlim(-0.66, 1.65)
    ax.set_ylim(0, ymax)
    ax.set_xticks([])
    ax.set_yticks(yticks)
    ax.tick_params(axis="y", labelsize=22, length=8, width=2, pad=4, left=True)
    for side in ("left", "bottom"):
        ax.spines[side].set_linewidth(2.2)
        ax.spines[side].set_color("#111111")
    sns.despine(ax=ax)
    ax.set_xlabel("")
    ax.set_ylabel("")
    ax.patch.set_alpha(0)
    txt(title_x, 1564, title, size=22, style="italic")
    txt(label_x, 1798, "Normalized gene count", rotation=90)
    return ax


def panel_counts():
    count_panel((843, 1679, 1014, 1938), 250, [0, 50, 100, 150, 200, 250], "Il4", 931, 738,
                IL4_MEAN, IL4_LOW, IL4_HIGH, IL4_NEG, IL4_POS)
    count_panel((1300, 1681, 1473, 1942), 100, [0, 20, 40, 60, 80, 100], "Il5", 1375, 1201,
                IL5_MEAN, IL5_LOW, IL5_HIGH, IL5_NEG, IL5_POS)
    count_panel((1726, 1679, 1896, 1938), 40, [0, 10, 20, 30, 40], "Il13", 1808, 1628,
                IL13_MEAN, IL13_LOW, IL13_HIGH, IL13_NEG, IL13_POS, IL13_POS_X)
    over.plot([1773, 1848], [1698, 1698], color="#111111", lw=3)
    txt(1811, 1693, "**", size=16, fontweight="bold")
    for s, ty, dy, c in [(NEG, 2039, 2037, DOT_COLORS[0]), (POS, 2086, 2085, DOT_COLORS[1])]:
        over.scatter([734], [dy], s=110, color=c, linewidth=0)
        txt(754, ty, s, size=22, ha="left")


panel_a()
panel_b()
panel_c()
panel_d()
panel_e()
panel_f()
panel_counts()

fig.savefig("out.png", dpi=100, facecolor="white")
